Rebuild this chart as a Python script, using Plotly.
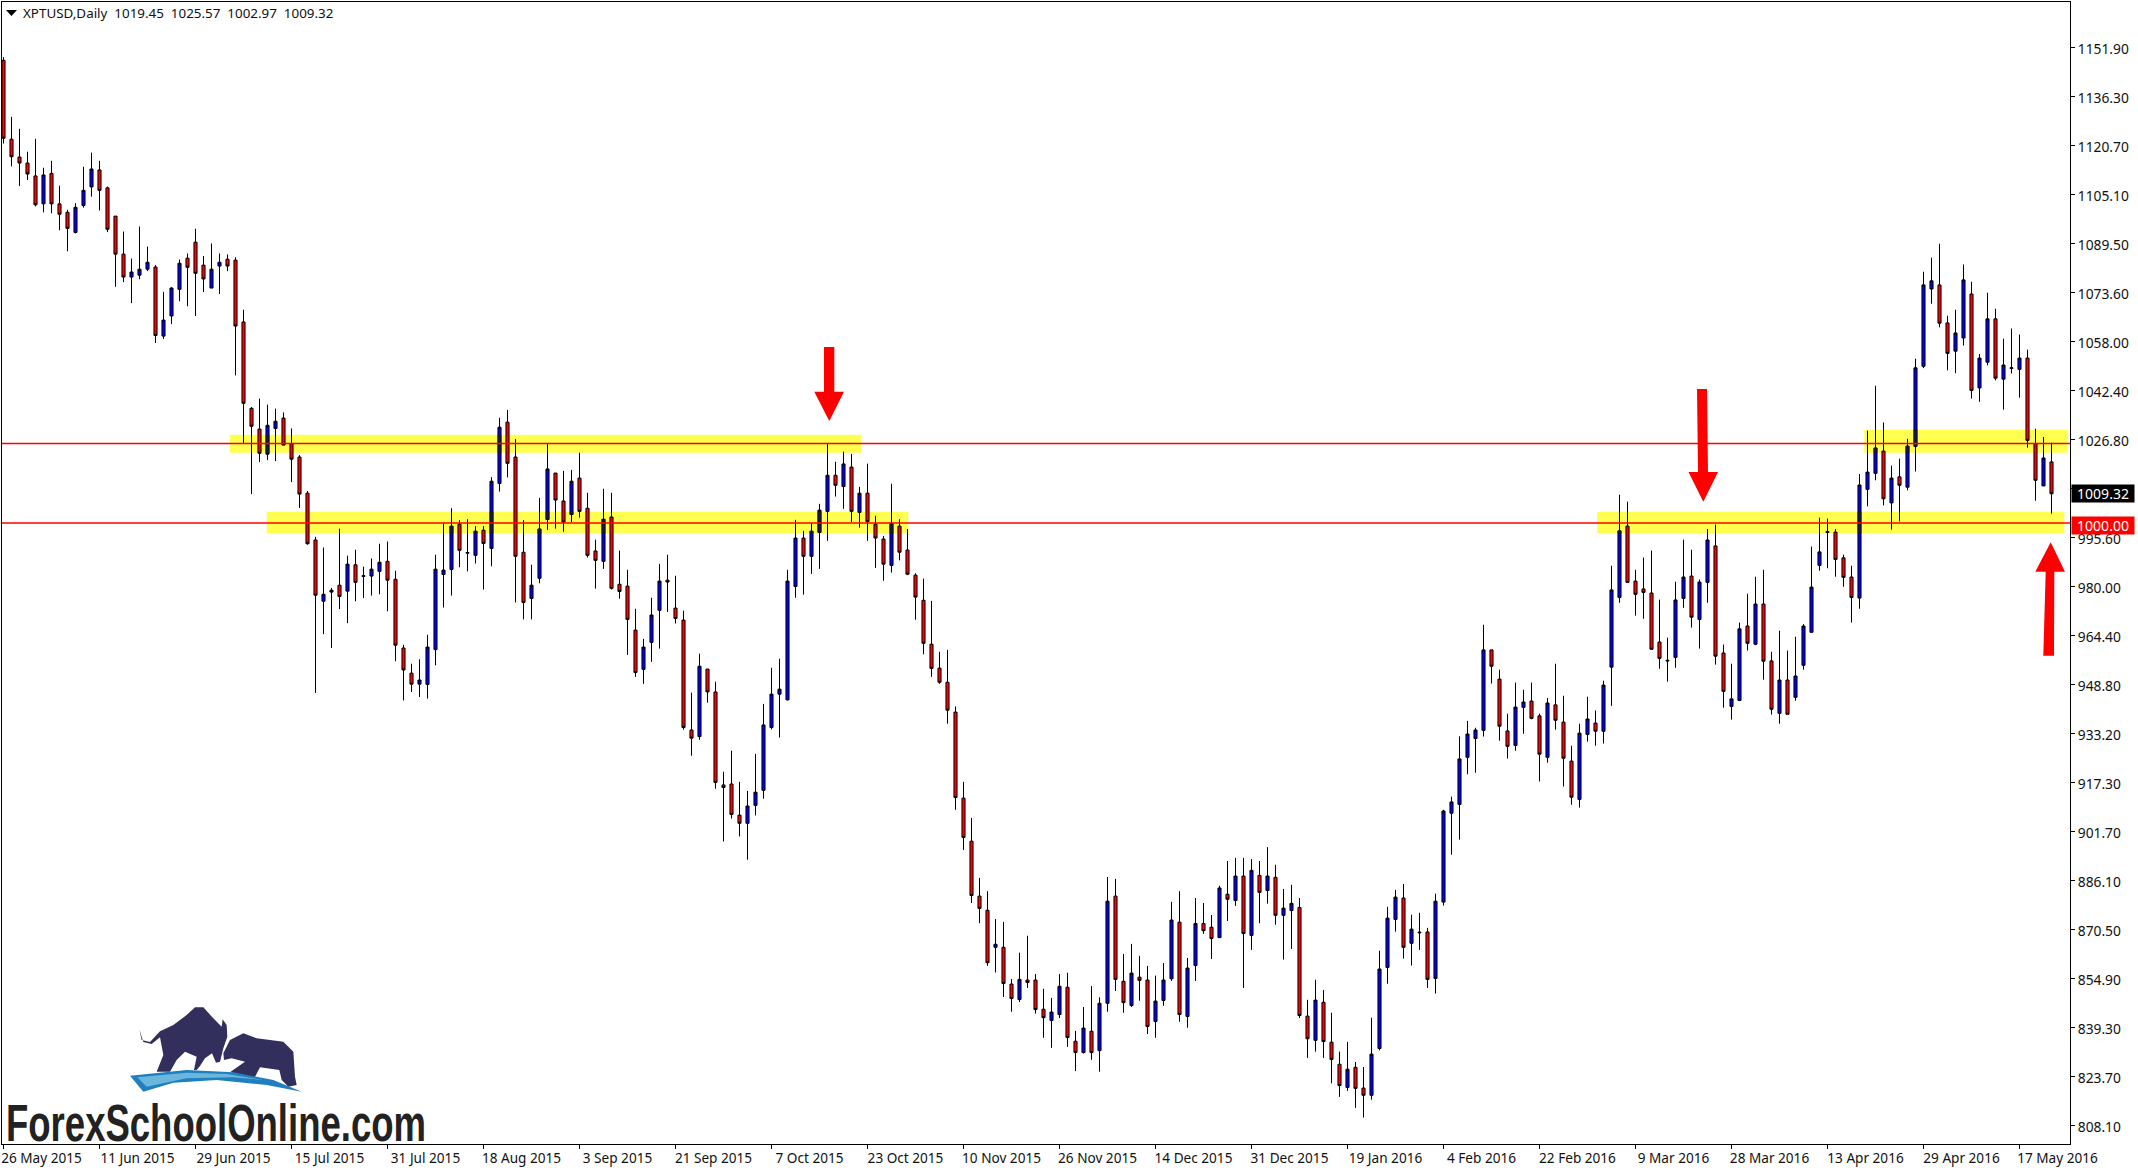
import plotly.graph_objects as go

opens = [
1147.3,1122.2,1116.5,1114.6,1110.5,1101.6,1111.3,1101.6,1098.9,1092.5,
1101.1,1107.0,1112.4,1106.7,1097.7,1085.6,1078.3,1078.9,1080.8,1081.5,
1059.5,1065.9,1074.4,1084.3,1089.4,1082.1,1074.8,1081.8,1084.0,1083.7,
1064.0,1036.5,1029.9,1021.9,1030.1,1033.4,1025.2,1021.0,1009.5,994.6,
975.1,978.0,980.2,978.3,986.7,983.0,983.1,984.6,987.8,982.1,
960.2,952.2,948.7,948.6,959.7,983.6,985.2,999.6,990.4,989.7,
997.7,991.9,1012.6,1032.1,1021.0,990.7,976.0,982.4,1001.1,1015.9,
1007.0,1002.7,1014.3,1004.7,991.1,987.8,1001.9,980.5,979.9,965.9,
953.4,962.0,972.2,981.8,972.9,969.1,934.1,932.0,953.5,946.2,
916.6,916.9,907.0,904.4,910.1,914.9,934.9,945.5,943.7,979.8,
995.2,989.4,997.0,1003.7,1015.2,1011.6,1017.8,1003.4,1009.5,999.6,
994.9,986.5,999.0,991.4,983.4,975.4,961.4,953.8,949.3,939.8,
912.4,898.7,881.2,876.7,864.9,864.9,853.2,848.3,854.5,854.5,
845.2,841.6,843.5,852.2,835.0,831.4,838.2,832.0,847.1,881.2,
854.1,846.4,855.4,854.5,841.3,848.0,854.9,872.9,842.9,859.1,
872.5,871.3,868.0,881.8,879.8,887.6,868.7,887.8,883.0,887.2,
875.1,876.6,877.6,843.0,835.3,847.4,834.7,827.7,820.3,826.7,
820.1,817.8,832.7,858.5,873.8,880.6,866.2,869.5,869.8,855.0,
879.3,907.6,910.4,925.4,931.4,934.0,959.6,950.3,933.8,929.2,
941.3,943.3,938.6,925.4,942.1,936.6,924.2,912.0,932.7,936.3,
933.7,954.1,976.3,999.0,981.5,979.0,977.7,962.1,956.3,957.2,
976.0,983.1,969.3,981.1,992.7,958.6,941.6,943.5,967.2,961.4,
974.2,956.1,939.4,950.0,944.5,954.7,965.2,986.5,997.0,997.1,
988.9,982.8,976.1,1010.7,1015.8,1022.9,1006.4,1014.7,1011.4,1024.4,
1049.9,1074.5,1075.8,1063.7,1054.7,1058.9,1072.9,1043.0,1051.2,1065.0,
1045.8,1049.2,1048.9,1052.5,1025.2,1011.8,1019.45]

highs = [
1148.3,1129.3,1125.5,1118.2,1122.3,1113.1,1115.3,1107.4,1099.7,1101.8,
1113.4,1117.9,1115.3,1107.1,1097.7,1092.8,1084.2,1094.4,1088.0,1082.1,
1073.6,1075.1,1083.9,1085.8,1093.7,1085.0,1089.0,1085.8,1085.5,1084.6,
1067.9,1036.9,1039.6,1037.7,1036.4,1035.2,1030.1,1021.6,1010.2,995.6,
992.2,979.3,998.2,989.6,991.5,986.1,988.7,993.4,994.1,984.8,
961.2,955.2,956.6,964.4,989.9,999.9,1004.7,1000.9,1001.2,999.0,
999.0,1014.6,1033.5,1036.0,1026.7,1000.9,986.7,1008.0,1025.2,1015.9,
1016.6,1016.9,1022.4,1009.6,994.7,1010.9,1009.6,991.2,985.1,972.7,
963.1,976.2,987.0,989.9,983.2,972.1,946.0,958.4,953.5,949.5,
920.8,927.5,917.6,914.7,926.5,942.4,953.9,956.8,985.1,1001.0,
997.5,1000.0,1006.1,1025.2,1019.5,1022.7,1022.0,1011.5,1018.9,1002.3,
995.9,1012.5,1001.2,998.1,984.0,982.3,975.2,959.0,959.6,941.6,
917.6,906.1,887.0,882.8,873.9,873.0,854.8,863.2,868.6,856.4,
851.7,848.8,856.4,856.8,838.3,845.9,852.6,849.0,887.3,886.7,
862.8,866.0,862.2,859.0,855.9,859.9,879.4,882.8,861.5,880.6,
879.0,875.2,884.5,892.4,893.4,893.4,893.0,892.4,896.8,891.2,
883.5,884.8,880.6,848.2,854.6,851.3,844.1,831.7,834.8,828.4,
826.8,842.5,863.8,877.8,883.2,885.1,875.3,875.9,871.1,882.0,
908.7,912.9,932.1,937.0,934.8,967.6,959.6,953.3,939.3,949.2,
946.9,949.2,939.3,944.3,955.2,945.0,929.1,936.1,944.7,940.3,
949.8,986.4,1009.0,1006.8,985.1,989.0,991.2,975.6,963.5,981.3,
994.7,991.5,982.0,998.1,999.5,961.3,955.2,968.3,977.5,982.9,
985.1,959.0,965.7,959.4,963.8,967.8,992.5,1001.7,1001.4,998.1,
989.9,986.4,1015.6,1029.4,1043.7,1032.0,1018.3,1020.5,1026.8,1052.3,
1080.0,1084.5,1088.9,1066.0,1067.9,1082.3,1076.8,1053.8,1073.3,1068.2,
1058.7,1061.9,1060.0,1055.2,1030.0,1027.4,1025.57]

lows = [
1120.8,1113.5,1107.3,1109.2,1100.8,1098.9,1098.6,1093.2,1086.5,1092.2,
1100.4,1103.9,1099.5,1092.6,1075.2,1076.7,1070.0,1077.6,1080.2,1057.3,
1058.6,1063.3,1070.6,1069.0,1065.9,1073.5,1074.8,1072.9,1080.2,1047.0,
1025.5,1009.2,1019.4,1020.0,1019.7,1024.8,1013.0,1004.8,993.1,945.9,
964.6,960.2,972.6,968.1,975.1,976.1,976.9,977.3,971.9,956.0,
943.5,946.2,944.6,944.1,954.7,973.1,976.9,985.9,984.6,987.1,
978.8,986.2,1010.0,1014.5,974.7,969.3,969.3,980.8,997.8,998.2,
997.2,1000.3,1001.7,989.0,979.1,985.4,978.8,975.9,958.0,951.0,
948.8,955.8,960.0,971.7,968.0,934.2,925.9,931.0,942.8,915.4,
898.6,905.9,900.2,892.8,906.9,912.2,934.3,931.7,943.5,976.2,
977.2,983.8,985.4,994.3,1008.4,1004.5,1000.3,998.5,994.3,985.7,
981.6,984.2,988.1,983.4,969.2,958.2,951.0,948.8,936.1,908.7,
895.9,879.0,872.6,859.0,856.9,849.1,844.4,847.5,852.0,843.8,
836.1,832.9,842.4,833.2,825.5,831.1,829.1,825.3,844.4,851.0,
844.1,845.9,847.9,837.3,836.1,846.3,854.2,841.2,839.3,854.2,
869.2,861.2,868.0,873.3,878.1,852.0,864.1,872.6,878.8,872.1,
861.0,864.4,842.4,829.7,831.7,829.7,821.6,817.3,819.2,813.8,
810.7,816.4,832.1,853.3,869.9,861.3,859.1,864.1,852.0,850.2,
878.2,894.4,899.2,920.0,920.5,932.0,948.9,930.7,925.0,927.5,
932.9,937.5,917.7,923.7,934.2,916.1,910.3,909.4,930.4,929.1,
929.8,941.8,974.6,981.1,970.5,969.5,959.7,953.6,949.5,953.9,
973.0,966.7,960.0,974.6,954.9,941.2,937.4,943.5,959.4,961.1,
950.1,939.0,936.1,939.1,943.4,953.3,965.2,984.8,985.6,982.9,
979.7,968.3,972.7,1005.3,1013.6,1005.6,997.9,1000.5,1010.4,1016.4,
1049.3,1069.8,1062.3,1048.6,1047.7,1056.5,1039.6,1038.6,1050.2,1045.4,
1036.1,1047.6,1039.9,1024.0,1007.1,1011.8,1002.97]

closes = [
1122.5,1116.6,1114.6,1111.1,1101.3,1110.8,1101.6,1098.3,1093.8,1100.5,
1105.9,1112.7,1105.9,1093.5,1085.6,1078.3,1079.9,1080.8,1083.0,1059.7,
1064.6,1074.8,1082.7,1081.4,1079.5,1077.7,1080.8,1083.0,1081.8,1062.7,
1038.1,1030.8,1022.2,1031.1,1032.4,1024.8,1020.3,1009.2,993.4,977.0,
977.3,978.6,976.6,986.9,981.1,983.2,985.3,987.5,981.8,961.1,
953.2,948.7,950.0,960.5,985.3,985.0,999.0,991.3,990.6,997.4,
993.5,1013.3,1030.5,1019.0,989.4,974.7,980.2,998.1,1017.2,1007.3,
1000.3,1013.3,1003.7,989.7,988.1,1001.2,979.2,978.2,969.3,952.4,
960.5,970.7,981.5,981.2,969.6,934.9,931.5,954.4,946.2,917.4,
915.8,907.2,904.4,909.9,914.3,935.7,945.5,947.1,981.5,995.2,
989.4,997.4,1004.1,1015.2,1012.0,1018.8,1003.7,1009.5,1000.4,995.2,
986.9,999.8,990.7,983.7,976.4,961.7,953.7,949.3,940.4,912.6,
899.9,881.4,877.3,860.0,865.9,853.4,848.6,854.7,853.7,845.1,
842.5,844.3,852.5,836.2,831.4,839.2,831.4,847.1,879.6,854.7,
847.3,856.7,854.4,839.7,847.8,854.5,873.6,843.5,858.3,872.5,
870.2,867.7,883.8,880.2,887.6,869.3,889.4,882.4,887.6,875.1,
877.4,878.9,843.2,835.8,848.1,834.9,829.2,820.9,826.1,820.0,
817.8,830.9,858.0,874.2,880.9,864.9,870.7,869.7,854.7,879.6,
908.3,911.2,924.9,932.8,934.1,959.6,954.4,935.3,928.9,941.4,
943.0,937.8,926.4,942.7,937.2,925.1,912.7,933.1,937.6,933.7,
948.4,978.7,997.5,981.1,977.3,977.9,959.8,956.9,956.1,975.5,
982.8,970.0,981.2,994.6,957.6,946.4,944.0,966.3,961.7,974.2,
956.0,940.7,950.0,939.1,951.3,967.2,979.6,990.8,997.2,988.4,
982.7,976.3,1012.1,1016.2,1023.9,1007.7,1014.3,1012.0,1024.5,1049.4,
1075.8,1077.1,1063.6,1054.0,1060.5,1077.4,1042.2,1052.5,1065.0,1046.1,
1050.3,1049.4,1052.5,1026.3,1013.6,1020.7,1009.32]

assert len(opens) == len(highs) == len(lows) == len(closes) == 257

date_labels = ["26 May 2015","11 Jun 2015","29 Jun 2015","15 Jul 2015","31 Jul 2015","18 Aug 2015",
               "3 Sep 2015","21 Sep 2015","7 Oct 2015","23 Oct 2015","10 Nov 2015","26 Nov 2015",
               "14 Dec 2015","31 Dec 2015","19 Jan 2016","4 Feb 2016","22 Feb 2016","9 Mar 2016",
               "28 Mar 2016","13 Apr 2016","29 Apr 2016","17 May 2016"]
date_ticks = [i * 12 for i in range(len(date_labels))]

price_labels = ["1151.90","1136.30","1120.70","1105.10","1089.50","1073.60","1058.00","1042.40",
                "1026.80","1011.20","995.60","980.00","964.40","948.80","933.20","917.30",
                "901.70","886.10","870.50","854.90","839.30","823.70","808.10"]
price_ticks = [1151.42,1135.82,1120.22,1104.61,1089.01,1073.41,1057.81,1042.2,1026.6,1011.0,995.4,
               979.8,964.2,948.6,932.98,917.38,901.78,886.17,870.57,854.97,839.37,823.76,808.16]

level_high = 1025.3
level_low = 1000.0
last_price = 1009.32
zones = [(28.3, 107.2, 1022.4, 1028.1), (32.9, 113.1, 996.7, 1003.6),
         (199.2, 257.6, 996.7, 1003.6), (232.6, 258.0, 1022.4, 1029.7)]

FONT = "Noto Sans"
W, H = 2138, 1171
L, T, R, B = 2, 2, 68, 27
PW, PH = W - L - R, H - T - B


def px(x):
    return (x - L) / PW


def py(y):
    return 1 - (y - T) / PH


def path(points):
    return "M" + " L".join(f"{px(x):.5f},{py(y):.5f}" for x, y in points) + " Z"


def poly(points, color):
    return dict(type="path", xref="paper", yref="paper", path=path(points),
                fillcolor=color, line=dict(width=0), layer="above")


def logo(points):
    return [(zx / 3, 990 + zy / 3) for zx, zy in points]


x_index = list(range(len(opens)))
fig = go.Figure(go.Candlestick(
    x=x_index, open=opens, high=highs, low=lows, close=closes,
    increasing=dict(fillcolor="#0000FF", line=dict(color="#000000", width=1)),
    decreasing=dict(fillcolor="#FF0000", line=dict(color="#000000", width=1)),
    whiskerwidth=0, showlegend=False, hoverinfo="skip"))

shapes = []
for x0, x1, y0, y1 in zones:
    shapes.append(dict(type="rect", xref="x", yref="y", x0=x0, x1=x1, y0=y0, y1=y1,
                       fillcolor="#FFFF50", line=dict(width=0), layer="below"))
# blue bodies darken where they run through a highlighted band
for i, (o, c) in enumerate(zip(opens, closes)):
    if c <= o:
        continue
    for x0, x1, y0, y1 in zones:
        lo, hi = max(o, y0), min(c, y1)
        if x0 <= i <= x1 and hi > lo:
            shapes.append(dict(type="rect", xref="x", yref="y", x0=i - 0.22, x1=i + 0.22, y0=lo, y1=hi,
                               fillcolor="#14143C", line=dict(width=0), layer="above"))
for lvl in (level_high, level_low):
    shapes.append(dict(type="line", xref="paper", yref="y", x0=0, x1=1, y0=lvl, y1=lvl,
                       line=dict(color="#FF0000", width=1.5), layer="above"))

# red arrows
shapes.append(poly([(824, 347), (834.3, 347), (834.3, 391.7), (844, 391.7), (829.3, 421),
                    (814.3, 391.7), (824, 391.7)], "#FF0000"))
shapes.append(poly([(1697, 389), (1707, 389), (1708, 472), (1718, 472), (1703.3, 501.7),
                    (1688.5, 472), (1698, 472)], "#FF0000"))
shapes.append(poly([(2043.3, 655.7), (2054, 655.7), (2054.3, 571.7), (2065, 571.7), (2050.7, 542.3),
                    (2035.3, 571.7), (2045.7, 571.7)], "#FF0000"))
# title triangle
shapes.append(poly([(6, 10), (17, 10), (11.5, 16)], "#000000"))

# logo
NAVY = "#332F5C"
shapes.append(poly(logo([(418,118),(425,150),(450,156),(480,124),(520,105),(560,75),(585,52),(610,52),
                         (640,85),(665,110),(668,88),(680,105),(682,140),(670,175),(660,215),(648,218),
                         (636,190),(615,205),(600,228),(590,240),(582,240),(590,200),(555,185),(530,210),
                         (510,245),(470,245),(490,195),(480,142),(455,162),(430,156)]), NAVY))
shapes.append(poly(logo([(670,190),(690,150),(730,130),(770,145),(850,155),(880,185),(885,260),(890,285),
                         (865,290),(845,270),(838,240),(780,232),(755,280),(692,245),(735,215),(695,205),
                         (672,210)]), NAVY))
shapes.append(poly(logo([(390,257),(560,240),(700,247),(820,270),(905,305),(800,285),(650,270),(520,278),
                         (430,305)]), "#1F7FBF"))
shapes.append(poly(logo([(412,262),(560,248),(680,252),(790,270),(700,262),(560,265),(440,290)]), "#6BB6DC"))

NB = "\u00a0"
annotations = [
    dict(xref="paper", yref="paper", x=px(21), y=py(13), xanchor="left", yanchor="middle", showarrow=False,
         text=f"XPTUSD,Daily{NB}{NB}1019.45{NB}{NB}1025.57{NB}{NB}1002.97{NB}{NB}1009.32",
         font=dict(family=FONT, size=13.4, color="#111111")),
    dict(xref="paper", yref="paper", x=px(6), y=py(1153), xanchor="left", yanchor="bottom", showarrow=False,
         text="ForexSchoolOnline.com", borderpad=0,
         font=dict(family="Liberation Sans", size=52, color="#222222", weight="bold")),
    dict(xref="paper", yref="y", x=px(2103), y=last_price, xanchor="center", yanchor="middle", showarrow=False,
         text=f"{last_price:.2f}", bgcolor="#000000", width=62, height=17, borderpad=0,
         font=dict(family=FONT, size=14, color="#FFFFFF")),
    dict(xref="paper", yref="y", x=px(2103), y=level_low, yshift=-2, xanchor="center", yanchor="middle",
         showarrow=False, text=f"{level_low:.2f}", bgcolor="#FF0000", width=62, height=17, borderpad=0,
         font=dict(family=FONT, size=14, color="#FFFFFF")),
]

fig.update_layout(
    width=W, height=H, autosize=False,
    margin=dict(l=L, r=R, t=T, b=B, pad=0, autoexpand=False),
    paper_bgcolor="#FFFFFF", plot_bgcolor="#FFFFFF",
    showlegend=False, hovermode=False, boxgap=0.45,
    shapes=shapes, annotations=annotations,
    font=dict(family=FONT, size=13.5, color="#111111"),
    xaxis=dict(range=[-0.1875, 258.3125], rangeslider=dict(visible=False), showgrid=False, zeroline=False,
               showline=True, linecolor="#000000", linewidth=1, mirror=True, automargin=False,
               tickmode="array", tickvals=date_ticks, ticktext=date_labels, tickangle=0,
               ticks="outside", ticklen=4, tickcolor="#000000", tickwidth=1,
               ticklabelshift=38, ticklabeloverflow="allow", ticklabelstandoff=-2,
               tickfont=dict(family=FONT, size=13.6, color="#111111")),
    yaxis=dict(range=[802.29, 1165.87], side="right", showgrid=False, zeroline=False,
               showline=True, linecolor="#000000", linewidth=1, mirror=True, automargin=False,
               tickmode="array", tickvals=price_ticks, ticktext=price_labels,
               ticks="outside", ticklen=4, tickcolor="#000000", tickwidth=1, ticklabelshift=2,
               tickfont=dict(family=FONT, size=13.8, color="#111111")),
)

# squeeze the brand text to the condensed width it has in the reference
post = """
document.body.style.margin='0';document.body.style.overflow='hidden';
document.querySelectorAll('.annotation-text').forEach(function(t){
  if(t.textContent.indexOf('ForexSchool')===0){
    t.setAttribute('x','0');t.setAttribute('text-anchor','start');t.style.textAnchor='start';
    t.setAttribute('textLength','420');t.setAttribute('lengthAdjust','spacingAndGlyphs');
  }
});
"""
fig.write_html("out.html", config=dict(displayModeBar=False), post_script=post)
